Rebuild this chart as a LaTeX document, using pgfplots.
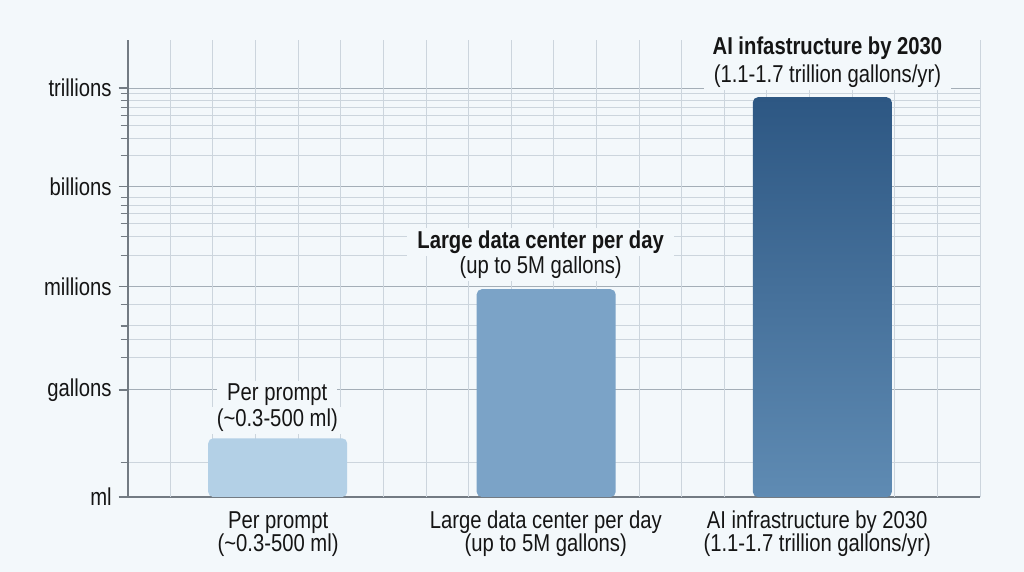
\documentclass[border=0pt]{standalone}
\usepackage{pgfplots}
\pgfplotsset{compat=1.18}
\usepackage{fontspec}
\setmainfont{Liberation Sans}[FakeStretch=0.83]

\definecolor{bg}{HTML}{F3F8FB}
\definecolor{gridminor}{HTML}{CCD5DD}
\definecolor{gridmajor}{HTML}{A4AEB7}
\definecolor{axisgray}{HTML}{737B83}
\definecolor{barlight}{HTML}{B3D0E6}
\definecolor{barmid}{HTML}{7BA3C7}
\definecolor{bardarktop}{HTML}{2D5783}
\definecolor{bardarkbot}{HTML}{5F8BB3}
\definecolor{txt}{HTML}{151515}

\newcommand{\lbl}{\fontsize{12.2}{13}\selectfont}

\begin{document}
\begin{tikzpicture}[
  lab/.style={font=\lbl, text=txt, anchor=base},
  boxed/.style={lab, fill=bg, inner xsep=5pt, inner ysep=1.2pt},
]
\fill[bg] (0,0) rectangle (512pt,286pt);
\begin{axis}[
  at={(63.85pt,37.5pt)}, anchor=south west,
  width=426.15pt, height=228.5pt, scale only axis,
  xmin=0, xmax=20, ymin=0, ymax=4.47,
  % shift so that bar bases (rounded corners) fall below the clipped area
  y coord trafo/.code={\pgfmathparse{#1+0.3}},
  y coord inv trafo/.code={\pgfmathparse{#1-0.3}},
  axis lines=left,
  axis line style={-, draw=axisgray, line width=0.8pt},
  xtick=\empty,
  extra x ticks={1,...,20}, extra x tick labels={},
  extra x tick style={xmajorgrids=true, major tick length=0pt,
    major grid style={draw=gridminor, line width=0.5pt}},
  xtick style={draw=none},
  ytick={0,1.047,2.055,3.036,4},
  yticklabels={ml,gallons,millions,billions,trillions},
  minor ytick={0.335,1.367,1.543,1.673,1.879,2.361,2.547,2.674,2.769,2.850,2.929,3.337,3.506,3.633,3.735,3.810,3.878,3.950},
  tick align=outside,
  major tick length=4.5pt, minor tick length=3.5pt,
  ytick style={draw=axisgray, line width=0.6pt},
  ymajorgrids, yminorgrids,
  major grid style={draw=gridmajor, line width=0.5pt},
  minor grid style={draw=gridminor, line width=0.5pt},
  ticklabel style={font=\lbl, text=txt},
  clip mode=individual,
]
\addplot[ybar, bar shift=0pt, bar width=3.26, draw=none, fill=barlight,
  rounded corners=2.5pt] coordinates {(3.52,0.574)};
\addplot[ybar, bar shift=0pt, bar width=3.26, draw=none, fill=barmid,
  rounded corners=2.5pt] coordinates {(9.82,2.032)};
\addplot[ybar, bar shift=0pt, bar width=3.26, draw=none,
  top color=bardarktop, bottom color=bardarkbot,
  rounded corners=2.5pt] coordinates {(16.30,3.91)};

% labels above bars
\node[boxed] at (axis cs:3.51,0.688) {(\textasciitilde0.3-500 ml)};
\node[boxed] at (axis cs:3.51,0.942) {Per prompt};
\node[boxed] at (axis cs:9.69,2.189) {(up to 5M gallons)};
\node[boxed, font=\lbl\bfseries] at (axis cs:9.69,2.433) {Large data center per day};
\node[boxed] at (axis cs:16.42,4.054) {(1.1-1.7 trillion gallons/yr)};
\node[boxed, font=\lbl\bfseries] at (axis cs:16.42,4.325) {AI infastructure by 2030};

% category labels under the axis
\node[lab] at (axis cs:3.53,-0.308) {Per prompt};
\node[lab] at (axis cs:3.53,-0.535) {(\textasciitilde0.3-500 ml)};
\node[lab] at (axis cs:9.81,-0.308) {Large data center per day};
\node[lab] at (axis cs:9.81,-0.535) {(up to 5M gallons)};
\node[lab] at (axis cs:16.18,-0.308) {AI infrastructure by 2030};
\node[lab] at (axis cs:16.18,-0.535) {(1.1-1.7 trillion gallons/yr)};
\end{axis}
\end{tikzpicture}
\end{document}
